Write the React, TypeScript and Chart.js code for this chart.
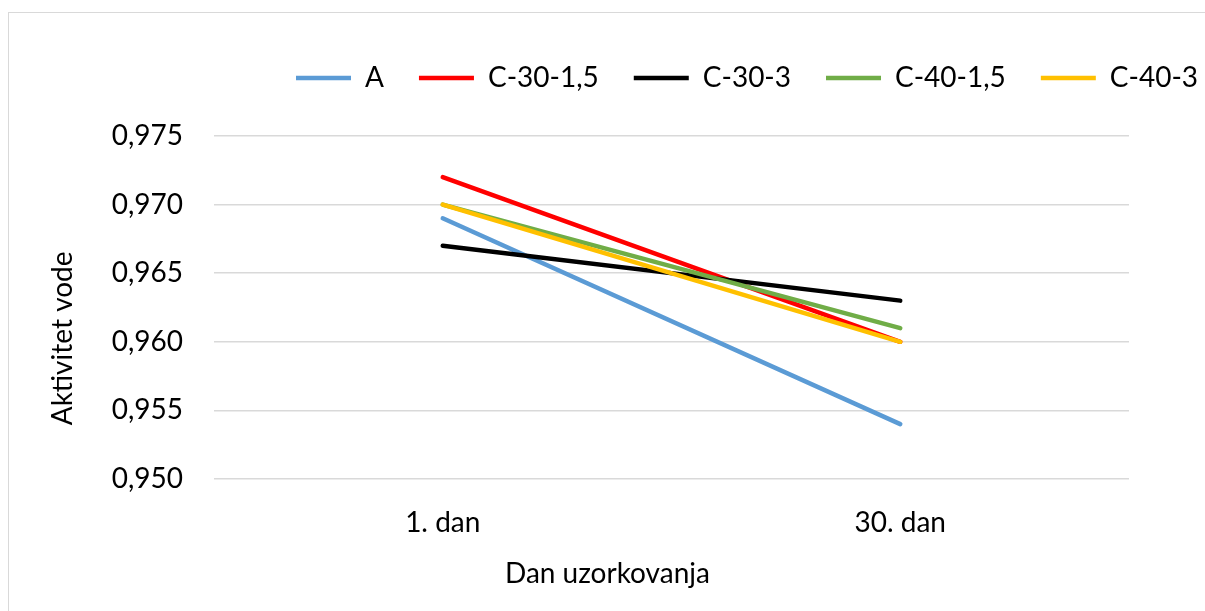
import React, { useEffect, useRef } from "react";
import { Chart, registerables } from "chart.js";

Chart.register(...registerables);

const categories = ["1. dan", "30. dan"];
const seriesNames = ["A", "C-30-1,5", "C-30-3", "C-40-1,5", "C-40-3"];
const seriesA = [0.969, 0.954];
const seriesC30_15 = [0.972, 0.96];
const seriesC30_3 = [0.967, 0.963];
const seriesC40_15 = [0.97, 0.961];
const seriesC40_3 = [0.97, 0.96];
const seriesColors = ["#5B9BD5", "#FF0000", "#000000", "#70AD47", "#FFC000"];
const yMin = 0.95;
const yMax = 0.975;
const yStep = 0.005;
const xTitle = "Dan uzorkovanja";
const yTitle = "Aktivitet vode";

const FONT = "Lato";
const FONT_SIZE = 28;
const TEXT_COLOR = "#000000";
const GRID_COLOR = "#D9D9D9";
const LEGEND_PADDING = 35;

const legendSpacer = {
  id: "legendSpacer",
  beforeInit(chart: any) {
    const legend = chart.legend;
    if (!legend) return;
    const orig = legend.fit;
    legend.fit = function () {
      orig.call(this);
      this.height += 34;
    };
  },
  afterLayout(chart: any) {
    const legend = chart.legend;
    if (!legend) return;
    const w = legend.right - legend.left;
    legend.left = chart.chartArea.left + 82 - LEGEND_PADDING;
    legend.right = legend.left + w;
  },
};

const axisTitles = {
  id: "axisTitles",
  afterDraw(chart: any) {
    const { ctx, chartArea } = chart;
    ctx.save();
    ctx.fillStyle = TEXT_COLOR;
    ctx.font = `${FONT_SIZE}px ${FONT}`;
    ctx.textAlign = "center";
    ctx.textBaseline = "middle";
    ctx.fillText(xTitle, chartArea.left + (chartArea.right - chartArea.left) * 0.43, chartArea.bottom + 95);
    ctx.translate(chartArea.left - 151, chartArea.top + (chartArea.bottom - chartArea.top) * 0.59);
    ctx.rotate(-Math.PI / 2);
    ctx.fillText(yTitle, 0, 0);
    ctx.restore();
  },
};

export default function App() {
  const canvasRef = useRef<HTMLCanvasElement | null>(null);

  useEffect(() => {
    if (!canvasRef.current) return;
    const allSeries = [seriesA, seriesC30_15, seriesC30_3, seriesC40_15, seriesC40_3];
    const chart = new Chart(canvasRef.current, {
      type: "line",
      data: {
        labels: categories,
        datasets: allSeries.map((values, i) => ({
          label: seriesNames[i],
          data: values,
          borderColor: seriesColors[i],
          backgroundColor: seriesColors[i],
          borderWidth: 4.5,
          borderCapStyle: "round" as const,
          borderJoinStyle: "round" as const,
          pointRadius: 0,
          pointHoverRadius: 0,
          pointStyle: "line" as const,
          fill: false,
          tension: 0,
          order: allSeries.length - 1 - i,
        })),
      },
      options: {
        animation: false,
        responsive: true,
        maintainAspectRatio: false,
        layout: { padding: { top: 29, right: 76, bottom: 0, left: 0 } },
        plugins: {
          legend: {
            display: true,
            position: "top",
            align: "start",
            labels: {
              usePointStyle: true,
              pointStyle: "line",
              pointStyleWidth: 55,
              padding: LEGEND_PADDING,
              color: TEXT_COLOR,
              font: { family: FONT, size: FONT_SIZE },
              sort: (a: any, b: any) => a.datasetIndex - b.datasetIndex,
            },
          },
          tooltip: { enabled: false },
          title: { display: false },
        },
        scales: {
          x: {
            type: "category",
            offset: true,
            grid: { display: false, drawTicks: false },
            border: { display: false },
            ticks: {
              color: TEXT_COLOR,
              font: { family: FONT, size: FONT_SIZE },
              padding: 27,
              maxRotation: 0,
            },
            afterFit: (scale: any) => {
              scale.height = 132;
            },
          },
          y: {
            type: "linear",
            min: yMin,
            max: yMax,
            grid: { color: GRID_COLOR, lineWidth: 1.5, drawTicks: false },
            border: { display: false },
            ticks: {
              stepSize: yStep,
              color: TEXT_COLOR,
              font: { family: FONT, size: FONT_SIZE },
              padding: 31,
              callback: (v: any) => Number(v).toFixed(3).replace(".", ","),
            },
            afterFit: (scale: any) => {
              scale.width = 214;
            },
          },
        },
      },
      plugins: [legendSpacer, axisTitles],
    });
    return () => chart.destroy();
  }, []);

  return (
    <div
      style={{
        position: "fixed",
        left: 0,
        top: 0,
        width: 1205,
        height: 611,
        overflow: "hidden",
        background: "#ffffff",
      }}
    >
      <div
        style={{
          position: "absolute",
          left: 8,
          top: 12,
          width: 1220,
          height: 700,
          border: "1.5px solid #D9D9D9",
          boxSizing: "border-box",
        }}
      />
      <div style={{ position: "absolute", left: 0, top: 0, width: 1205, height: 611 }}>
        <canvas ref={canvasRef} />
      </div>
    </div>
  );
}
